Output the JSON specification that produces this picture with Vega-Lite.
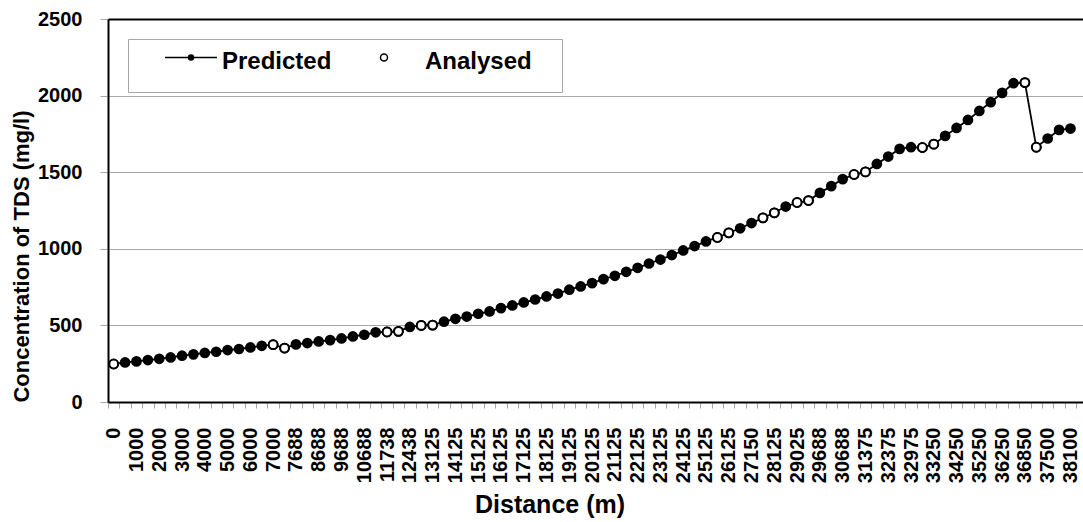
{
  "$schema": "https://vega.github.io/schema/vega-lite/v6.json",
  "autosize": "none",
  "padding": {"left": 108, "top": 19, "right": 0, "bottom": 120},
  "width": 975,
  "height": 383,
  "background": "white",
  "config": {
    "font": "Liberation Sans",
    "view": {"stroke": null}
  },
  "datasets": {
    "tds": [
      {"d": "0", "p": 248, "a": 248},
      {"d": "500", "p": 258, "a": null},
      {"d": "1000", "p": 265, "a": null},
      {"d": "1500", "p": 274, "a": null},
      {"d": "2000", "p": 282, "a": null},
      {"d": "2500", "p": 291, "a": null},
      {"d": "3000", "p": 302, "a": null},
      {"d": "3500", "p": 311, "a": null},
      {"d": "4000", "p": 320, "a": null},
      {"d": "4500", "p": 328, "a": null},
      {"d": "5000", "p": 339, "a": null},
      {"d": "5500", "p": 346, "a": null},
      {"d": "6000", "p": 356, "a": null},
      {"d": "6500", "p": 367, "a": null},
      {"d": "7000", "p": 374, "a": 374},
      {"d": "7344", "p": 352, "a": 352},
      {"d": "7688", "p": 376, "a": null},
      {"d": "8188", "p": 385, "a": null},
      {"d": "8688", "p": 395, "a": null},
      {"d": "9188", "p": 404, "a": null},
      {"d": "9688", "p": 415, "a": null},
      {"d": "10188", "p": 428, "a": null},
      {"d": "10688", "p": 439, "a": null},
      {"d": "11213", "p": 455, "a": null},
      {"d": "11738", "p": 457, "a": 457},
      {"d": "12088", "p": 461, "a": 461},
      {"d": "12438", "p": 490, "a": null},
      {"d": "12781", "p": 500, "a": 500},
      {"d": "13125", "p": 502, "a": 502},
      {"d": "13625", "p": 524, "a": null},
      {"d": "14125", "p": 543, "a": null},
      {"d": "14625", "p": 558, "a": null},
      {"d": "15125", "p": 576, "a": null},
      {"d": "15625", "p": 591, "a": null},
      {"d": "16125", "p": 613, "a": null},
      {"d": "16625", "p": 630, "a": null},
      {"d": "17125", "p": 650, "a": null},
      {"d": "17625", "p": 669, "a": null},
      {"d": "18125", "p": 689, "a": null},
      {"d": "18625", "p": 708, "a": null},
      {"d": "19125", "p": 733, "a": null},
      {"d": "19625", "p": 754, "a": null},
      {"d": "20125", "p": 776, "a": null},
      {"d": "20625", "p": 802, "a": null},
      {"d": "21125", "p": 824, "a": null},
      {"d": "21625", "p": 850, "a": null},
      {"d": "22125", "p": 876, "a": null},
      {"d": "22625", "p": 904, "a": null},
      {"d": "23125", "p": 930, "a": null},
      {"d": "23625", "p": 959, "a": null},
      {"d": "24125", "p": 989, "a": null},
      {"d": "24625", "p": 1018, "a": null},
      {"d": "25125", "p": 1048, "a": null},
      {"d": "25625", "p": 1074, "a": 1074},
      {"d": "26125", "p": 1104, "a": 1104},
      {"d": "26625", "p": 1134, "a": null},
      {"d": "27150", "p": 1168, "a": null},
      {"d": "27625", "p": 1202, "a": 1202},
      {"d": "28125", "p": 1235, "a": 1235},
      {"d": "28575", "p": 1276, "a": null},
      {"d": "29025", "p": 1302, "a": 1302},
      {"d": "29350", "p": 1315, "a": 1315},
      {"d": "29688", "p": 1365, "a": null},
      {"d": "30188", "p": 1409, "a": null},
      {"d": "30688", "p": 1455, "a": null},
      {"d": "31025", "p": 1485, "a": 1485},
      {"d": "31375", "p": 1502, "a": 1502},
      {"d": "31875", "p": 1554, "a": null},
      {"d": "32375", "p": 1602, "a": null},
      {"d": "32675", "p": 1652, "a": null},
      {"d": "32975", "p": 1663, "a": null},
      {"d": "33100", "p": 1661, "a": 1661},
      {"d": "33250", "p": 1683, "a": 1683},
      {"d": "33750", "p": 1737, "a": null},
      {"d": "34250", "p": 1789, "a": null},
      {"d": "34750", "p": 1841, "a": null},
      {"d": "35250", "p": 1900, "a": null},
      {"d": "35750", "p": 1957, "a": null},
      {"d": "36250", "p": 2018, "a": null},
      {"d": "36550", "p": 2081, "a": null},
      {"d": "36850", "p": 2085, "a": 2085},
      {"d": "37175", "p": 1663, "a": 1663},
      {"d": "37500", "p": 1720, "a": null},
      {"d": "37800", "p": 1776, "a": null},
      {"d": "38100", "p": 1785, "a": null}
    ],
    "series": [
      {"s": "Predicted"},
      {"s": "Analysed"}
    ]
  },
  "data": {"name": "tds"},
  "encoding": {
    "x": {
      "field": "d",
      "type": "ordinal",
      "sort": null,
      "scale": {"type": "band", "paddingInner": 0, "paddingOuter": 0.3, "align": 0},
      "axis": {
        "title": "Distance (m)",
        "titleFontSize": 25,
        "titleFontWeight": "bold",
        "titleColor": "black",
        "titleX": 441.5,
        "titleY": 110,
        "titleBaseline": "alphabetic",
        "titleAlign": "center",
        "labelAngle": -90,
        "labelAlign": "right",
        "labelBaseline": "middle",
        "labelFontSize": 20,
        "labelFontWeight": "bold",
        "labelColor": "black",
        "labelPadding": 19,
        "labelOverlap": false,
        "labelBound": false,
        "labelExpr": "round(datum.index * 84) % 2 == 0 ? datum.label : ''",
        "tickBand": "extent",
        "tickColor": "#a6a6a6",
        "tickSize": 6,
        "tickWidth": 1,
        "domainColor": "black",
        "domainWidth": 2,
        "grid": false
      }
    }
  },
  "layer": [
    {
      "mark": {"type": "line", "color": "black", "strokeWidth": 1.8},
      "encoding": {
        "y": {
          "field": "p",
          "type": "quantitative",
          "scale": {"domain": [0, 2500], "nice": false},
          "axis": {
            "title": "Concentration of TDS (mg/l)",
            "titleFontSize": 22,
            "titleFontWeight": "bold",
            "titleColor": "black",
            "titleX": -80,
            "titleY": 237,
            "titleBaseline": "alphabetic",
            "titleAlign": "center",
            "values": [0, 500, 1000, 1500, 2000, 2500],
            "format": "d",
            "labelFontSize": 20,
            "labelFontWeight": "bold",
            "labelColor": "black",
            "labelPadding": 18,
            "tickSize": 8,
            "tickColor": "#a6a6a6",
            "tickWidth": 1,
            "domainColor": "black",
            "domainWidth": 2,
            "grid": true,
            "gridColor": {"condition": {"test": "datum.value === 2500", "value": "black"}, "value": "#a6a6a6"},
            "gridWidth": {"condition": {"test": "datum.value === 2500", "value": 2}, "value": 1}
          }
        }
      }
    },
    {
      "mark": {"type": "point", "filled": true, "color": "black", "size": 115, "opacity": 1},
      "encoding": {
        "y": {"field": "p", "type": "quantitative"}
      }
    },
    {
      "mark": {"type": "point", "filled": true, "fill": "white", "stroke": "black", "strokeWidth": 2, "size": 78, "opacity": 1},
      "encoding": {
        "y": {"field": "a", "type": "quantitative"}
      }
    },
    {
      "data": {"name": "series"},
      "transform": [{"filter": "false"}],
      "mark": {"type": "point", "filled": true, "strokeWidth": 1.5, "opacity": 1},
      "encoding": {
        "shape": {
          "field": "s",
          "type": "nominal",
          "scale": {
            "domain": ["Predicted", "Analysed"],
            "range": [
              "M1.4,-2.3H11.8M6.1,-2.3A0.5,0.5 0 1,1 7.1,-2.3A0.5,0.5 0 1,1 6.1,-2.3Z",
              "M3.9,-2.3A0.7,0.7 0 1,1 5.3,-2.3A0.7,0.7 0 1,1 3.9,-2.3Z"
            ]
          },
          "legend": {
            "title": " ",
            "titleOrient": "right",
            "titlePadding": 12,
            "titleFontSize": 10,
            "orient": "none",
            "legendX": 20,
            "legendY": 20,
            "direction": "horizontal",
            "columns": 2,
            "columnPadding": 17,
            "padding": 18,
            "strokeColor": "#a6a6a6",
            "fillColor": "white",
            "symbolSize": 100,
            "symbolStrokeWidth": 1.5,
            "labelOffset": 52,
            "labelFontSize": 24,
            "labelFontWeight": "bold",
            "labelColor": "black",
            "labelBaseline": "alphabetic",
            "labelLimit": 300
          }
        },
        "fill": {
          "field": "s",
          "type": "nominal",
          "scale": {"domain": ["Predicted", "Analysed"], "range": ["black", "white"]},
          "legend": null
        },
        "stroke": {
          "field": "s",
          "type": "nominal",
          "scale": {"domain": ["Predicted", "Analysed"], "range": ["black", "#000000"]},
          "legend": null
        }
      }
    }
  ]
}
